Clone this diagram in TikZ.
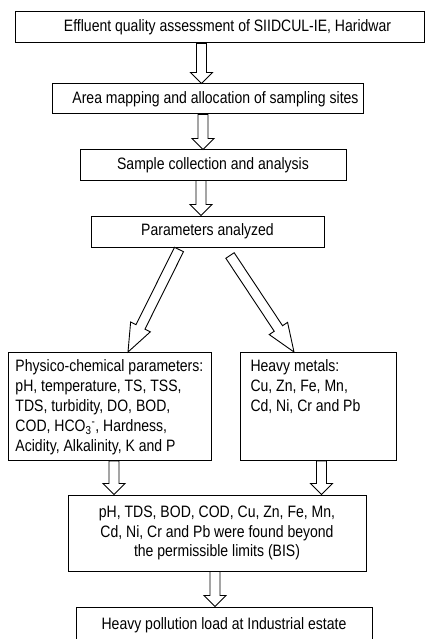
\documentclass[tikz,border=0pt]{standalone}
\usepackage{fontspec}
\setmainfont{Liberation Sans}[FakeStretch=0.85]
\usetikzlibrary{calc}

\tikzset{
  box/.style={draw, line width=1pt, inner sep=0pt, align=center,
    font=\fontsize{16.5}{19.5}\selectfont},
  fat arrow/.style={line width=0.9pt, fill=white, to path={
    let \p1=($(\tikztotarget)-(\tikztostart)$), \n1={atan2(\y1,\x1)},
        \n2={veclen(\x1,\y1)-#1} in
    ($(\tikztostart)+(\n1+90:5pt)$) -- ($(\tikztostart)+(\n1:\n2)+(\n1+90:5pt)$)
    -- ($(\tikztostart)+(\n1:\n2)+(\n1+90:11pt)$) -- (\tikztotarget)
    -- ($(\tikztostart)+(\n1:\n2)+(\n1-90:11pt)$)
    -- ($(\tikztostart)+(\n1:\n2)+(\n1-90:5pt)$)
    -- ($(\tikztostart)+(\n1-90:5pt)$) -- cycle}},
  fat arrow/.default=11pt
}

\begin{document}
\begin{tikzpicture}[x=1pt, y=-1pt]
    \useasboundingbox (0,0) rectangle (425,639);

    % 上部步骤
    \node[box, minimum width=409pt, minimum height=31pt] (top) at (219.5,27.5)
        {\hspace*{16pt}Effluent quality assessment of SIIDCUL-IE, Haridwar};
    \node[box, minimum width=311pt, minimum height=30pt] (area) at (207.5,99)
        {\hspace*{16pt}Area mapping and allocation of sampling sites};
    \node[box, minimum width=266pt, minimum height=30pt] (sample) at (213,165)
        {Sample collection and analysis};
    \node[box, minimum width=233pt, minimum height=31pt] (params) at (207.5,231.5)
        {Parameters analyzed};

    % 两个分支
    \node[box, anchor=north west] (physico) at (8,352)
        {\parbox[c][108pt][t]{203pt}{\raggedright\leftskip=7pt
        \baselineskip=20pt\vspace*{7pt}%
        Physico-chemical parameters:\\
        pH, temperature, TS, TSS,\\
        TDS, turbidity, DO, BOD,\\
        COD, HCO\textsubscript{3}\textsuperscript{-}, Hardness,\\
        Acidity, Alkalinity, K and P}};
    \node[box, anchor=north west] (metals) at (240,352)
        {\parbox[c][108pt][t]{156pt}{\raggedright\leftskip=10pt
        \baselineskip=20pt\vspace*{7pt}%
        Heavy metals:\\
        Cu, Zn, Fe, Mn,\\
        Cd, Ni, Cr and Pb}};

    % 结果
    \node[box, minimum width=298pt, minimum height=76pt] (beyond) at (217,533)
        {pH, TDS, BOD, COD, Cu, Zn, Fe, Mn,\\
         Cd, Ni, Cr and Pb were found beyond\\
         the permissible limits (BIS)};
    \node[box, minimum width=296pt, minimum height=36pt] (load) at (224,625)
        {Heavy pollution load at Industrial estate};

    % 空心箭头
    \draw[fat arrow] (201.5,0 |- top.south) to (201.5,0 |- area.north);
    \draw[fat arrow] (203,0 |- area.south) to (203,0 |- sample.north);
    \draw[fat arrow] (201,0 |- sample.south) to (201,0 |- params.north);
    \coordinate (ls) at ($(params.south -| 179,0)+(0,2)$);
    \coordinate (rs) at ($(params.south -| 230,0)+(0,8)$);
    \draw[fat arrow=28pt] (ls) to (128,0 |- physico.north);
    \draw[fat arrow=28pt] (rs) to (294,0 |- metals.north);
    \draw[fat arrow] (114,0 |- physico.south) to (114,0 |- beyond.north);
    \draw[fat arrow] (321.5,0 |- metals.south) to (321.5,0 |- beyond.north);
    \draw[fat arrow] (215,0 |- beyond.south) to (215,0 |- load.north);
\end{tikzpicture}
\end{document}
